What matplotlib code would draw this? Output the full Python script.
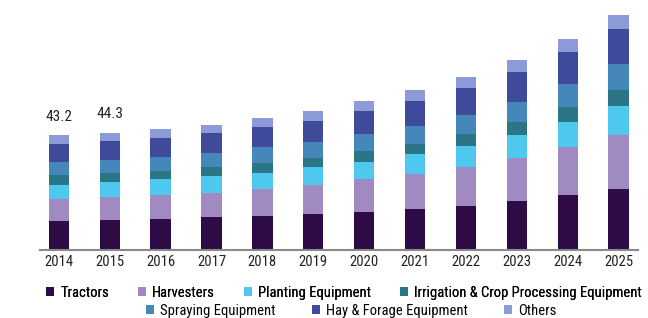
import matplotlib
matplotlib.use("Agg")
import matplotlib.pyplot as plt
import numpy as np

# Market size by product (USD billion), stacked bottom to top
years = ["2014", "2015", "2016", "2017", "2018", "2019",
         "2020", "2021", "2022", "2023", "2024", "2025"]
tractors =   [10.9, 11.0, 11.4, 12.2, 12.7, 13.4, 14.2, 15.5, 16.6, 18.3, 20.5, 22.8]
harvesters = [8.1, 9.0, 9.1, 9.3, 10.1, 10.9, 12.4, 13.1, 14.8, 16.5, 18.4, 20.6]
planting =   [5.5, 5.5, 6.2, 6.3, 6.3, 6.8, 6.5, 7.4, 7.9, 8.6, 9.5, 11.0]
irrigation = [3.6, 3.6, 3.1, 3.3, 3.8, 3.6, 4.1, 4.1, 4.5, 5.0, 5.5, 6.0]
spraying =   [5.0, 4.8, 5.4, 5.6, 5.8, 6.0, 6.6, 6.8, 7.1, 7.6, 8.7, 9.8]
hay =        [6.7, 7.2, 7.0, 7.3, 7.6, 8.1, 8.8, 9.2, 10.4, 11.3, 12.2, 13.2]
others =     [3.4, 3.2, 3.3, 3.3, 3.4, 3.8, 3.5, 4.3, 3.9, 4.5, 4.9, 5.4]

series = ["Tractors", "Harvesters", "Planting Equipment",
          "Irrigation & Crop Processing Equipment", "Spraying Equipment",
          "Hay & Forage Equipment", "Others"]
values = [tractors, harvesters, planting, irrigation, spraying, hay, others]
colors = ["#2E0B45", "#A08AC2", "#4EC8EE", "#2A7586", "#4687BA", "#3F4A9B", "#8C9BD8"]

# totals shown above the first two bars
labels = {"2014": "43.2", "2015": "44.3"}

plt.rcParams["font.family"] = ["Roboto Condensed", "Liberation Sans", "DejaVu Sans"]

fig = plt.figure(figsize=(6.48, 3.18), dpi=100)
ax = fig.add_axes([40 / 648, (318 - 249.5) / 318, 598 / 648, 249.5 / 318])

x = np.arange(len(years))
bottom = np.zeros(len(years))
handles = []
for name, vals, col in zip(series, values, colors):
    b = ax.bar(x, vals, width=0.40, bottom=bottom, color=col, label=name, linewidth=0)
    handles.append(b)
    bottom += np.array(vals)

for i, y in enumerate(years):
    if y in labels:
        ax.text(x[i], bottom[i] + 4.3, labels[y], ha="center", va="bottom",
                fontsize=11, color="#222222")

ax.set_xlim(-0.37, 11.38)
ax.set_ylim(0, 94.5)
ax.set_xticks(x)
ax.set_xticklabels(years, fontsize=10.5, color="#222222")
ax.tick_params(axis="x", length=0, pad=4)
ax.set_yticks([])
for s in ["top", "right", "left"]:
    ax.spines[s].set_visible(False)
ax.spines["bottom"].set_color("#8a8a8a")
ax.spines["bottom"].set_linewidth(1.5)

# legend in two centered rows
leg_kw = dict(loc="center", frameon=False, fontsize=10.5, handlelength=0.55,
              handleheight=0.55, handletextpad=0.4, borderpad=0)
leg1 = fig.legend(handles[:4], series[:4], ncol=4, columnspacing=2.0,
                  bbox_to_anchor=(344 / 648, 1 - 293 / 318), **leg_kw)
fig.add_artist(leg1)
fig.legend(handles[4:], series[4:], ncol=3, columnspacing=2.5,
           bbox_to_anchor=(351 / 648, 1 - 311 / 318), **leg_kw)

fig.savefig("out.png", dpi=100, facecolor="white")
